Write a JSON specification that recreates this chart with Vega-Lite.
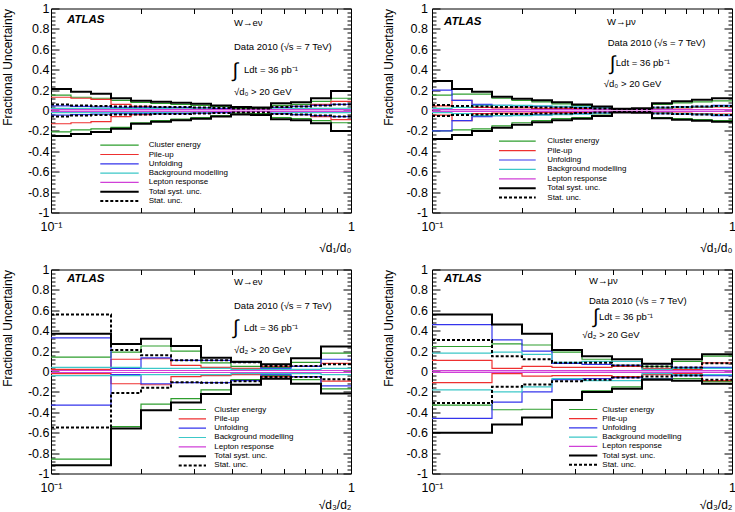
{
  "$schema": "https://vega.github.io/schema/vega-lite/v6.json",
  "background": "white",
  "padding": {"left": 0, "top": 1.5, "right": 0, "bottom": 0},
  "config": {
    "font": "Liberation Sans",
    "view": {"stroke": "black", "strokeWidth": 1},
    "axis": {"domain": false, "grid": false, "labelColor": "black", "titleColor": "black", "tickColor": "black", "tickWidth": 1, "labelFont": "Liberation Sans", "titleFont": "Liberation Sans", "titleFontWeight": "normal", "labelFontSize": 12.5, "titleFontSize": 12},
    "legend": {"labelFont": "Liberation Sans", "labelFontSize": 8, "labelColor": "black", "padding": 0, "symbolSize": 49, "symbolStrokeWidth": 1.5, "labelLimit": 0}
  },
  "datasets": {
    "unc": [
      {"panel":1,"series":"clus","x":0.1,"hi":0.15,"lo":-0.21},{"panel":1,"series":"clus","x":0.11659,"hi":0.13,"lo":-0.19},{"panel":1,"series":"clus","x":0.13594,"hi":0.12,"lo":-0.18},{"panel":1,"series":"clus","x":0.15849,"hi":0.1,"lo":-0.165},{"panel":1,"series":"clus","x":0.18478,"hi":0.08,"lo":-0.12},{"panel":1,"series":"clus","x":0.21544,"hi":0.07,"lo":-0.1},{"panel":1,"series":"clus","x":0.25119,"hi":0.06,"lo":-0.085},{"panel":1,"series":"clus","x":0.29286,"hi":0.05,"lo":-0.07},{"panel":1,"series":"clus","x":0.34145,"hi":0.04,"lo":-0.05},{"panel":1,"series":"clus","x":0.39811,"hi":0.02,"lo":-0.025},{"panel":1,"series":"clus","x":0.46416,"hi":0.02,"lo":-0.03},{"panel":1,"series":"clus","x":0.54117,"hi":0.05,"lo":-0.07},{"panel":1,"series":"clus","x":0.63096,"hi":0.06,"lo":-0.08},{"panel":1,"series":"clus","x":0.73564,"hi":0.09,"lo":-0.1},{"panel":1,"series":"clus","x":0.8577,"hi":0.12,"lo":-0.12},{"panel":1,"series":"clus","x":1,"hi":0.12,"lo":-0.12},
      {"panel":1,"series":"pile","x":0.1,"hi":0.13,"lo":-0.13},{"panel":1,"series":"pile","x":0.11659,"hi":0.12,"lo":-0.12},{"panel":1,"series":"pile","x":0.13594,"hi":0.11,"lo":-0.11},{"panel":1,"series":"pile","x":0.15849,"hi":0.06,"lo":-0.06},{"panel":1,"series":"pile","x":0.18478,"hi":0.04,"lo":-0.04},{"panel":1,"series":"pile","x":0.21544,"hi":0.03,"lo":-0.03},{"panel":1,"series":"pile","x":0.25119,"hi":0.025,"lo":-0.025},{"panel":1,"series":"pile","x":0.29286,"hi":0.02,"lo":-0.02},{"panel":1,"series":"pile","x":0.34145,"hi":0.015,"lo":-0.015},{"panel":1,"series":"pile","x":0.39811,"hi":0.01,"lo":-0.01},{"panel":1,"series":"pile","x":0.46416,"hi":0.01,"lo":-0.01},{"panel":1,"series":"pile","x":0.54117,"hi":0.03,"lo":-0.03},{"panel":1,"series":"pile","x":0.63096,"hi":0.04,"lo":-0.04},{"panel":1,"series":"pile","x":0.73564,"hi":0.06,"lo":-0.06},{"panel":1,"series":"pile","x":0.8577,"hi":0.09,"lo":-0.09},{"panel":1,"series":"pile","x":1,"hi":0.09,"lo":-0.09},
      {"panel":1,"series":"unf","x":0.1,"hi":0.045,"lo":-0.045},{"panel":1,"series":"unf","x":0.11659,"hi":0.04,"lo":-0.04},{"panel":1,"series":"unf","x":0.13594,"hi":0.035,"lo":-0.035},{"panel":1,"series":"unf","x":0.15849,"hi":0.03,"lo":-0.03},{"panel":1,"series":"unf","x":0.18478,"hi":0.03,"lo":-0.03},{"panel":1,"series":"unf","x":0.21544,"hi":0.03,"lo":-0.03},{"panel":1,"series":"unf","x":0.25119,"hi":0.03,"lo":-0.03},{"panel":1,"series":"unf","x":0.29286,"hi":0.025,"lo":-0.025},{"panel":1,"series":"unf","x":0.34145,"hi":0.02,"lo":-0.02},{"panel":1,"series":"unf","x":0.39811,"hi":0.01,"lo":-0.01},{"panel":1,"series":"unf","x":0.46416,"hi":0.01,"lo":-0.01},{"panel":1,"series":"unf","x":0.54117,"hi":0.03,"lo":-0.03},{"panel":1,"series":"unf","x":0.63096,"hi":0.04,"lo":-0.04},{"panel":1,"series":"unf","x":0.73564,"hi":0.05,"lo":-0.05},{"panel":1,"series":"unf","x":0.8577,"hi":0.06,"lo":-0.06},{"panel":1,"series":"unf","x":1,"hi":0.06,"lo":-0.06},
      {"panel":1,"series":"bkg","x":0.1,"hi":0.02,"lo":-0.02},{"panel":1,"series":"bkg","x":0.11659,"hi":0.02,"lo":-0.02},{"panel":1,"series":"bkg","x":0.13594,"hi":0.02,"lo":-0.02},{"panel":1,"series":"bkg","x":0.15849,"hi":0.02,"lo":-0.02},{"panel":1,"series":"bkg","x":0.18478,"hi":0.02,"lo":-0.02},{"panel":1,"series":"bkg","x":0.21544,"hi":0.02,"lo":-0.02},{"panel":1,"series":"bkg","x":0.25119,"hi":0.015,"lo":-0.015},{"panel":1,"series":"bkg","x":0.29286,"hi":0.015,"lo":-0.015},{"panel":1,"series":"bkg","x":0.34145,"hi":0.01,"lo":-0.01},{"panel":1,"series":"bkg","x":0.39811,"hi":0.01,"lo":-0.01},{"panel":1,"series":"bkg","x":0.46416,"hi":0.01,"lo":-0.01},{"panel":1,"series":"bkg","x":0.54117,"hi":0.015,"lo":-0.015},{"panel":1,"series":"bkg","x":0.63096,"hi":0.02,"lo":-0.02},{"panel":1,"series":"bkg","x":0.73564,"hi":0.02,"lo":-0.02},{"panel":1,"series":"bkg","x":0.8577,"hi":0.02,"lo":-0.02},{"panel":1,"series":"bkg","x":1,"hi":0.02,"lo":-0.02},
      {"panel":1,"series":"lep","x":0.1,"hi":0.008,"lo":-0.008},{"panel":1,"series":"lep","x":0.11659,"hi":0.008,"lo":-0.008},{"panel":1,"series":"lep","x":0.13594,"hi":0.008,"lo":-0.008},{"panel":1,"series":"lep","x":0.15849,"hi":0.008,"lo":-0.008},{"panel":1,"series":"lep","x":0.18478,"hi":0.008,"lo":-0.008},{"panel":1,"series":"lep","x":0.21544,"hi":0.008,"lo":-0.008},{"panel":1,"series":"lep","x":0.25119,"hi":0.008,"lo":-0.008},{"panel":1,"series":"lep","x":0.29286,"hi":0.008,"lo":-0.008},{"panel":1,"series":"lep","x":0.34145,"hi":0.008,"lo":-0.008},{"panel":1,"series":"lep","x":0.39811,"hi":0.008,"lo":-0.008},{"panel":1,"series":"lep","x":0.46416,"hi":0.008,"lo":-0.008},{"panel":1,"series":"lep","x":0.54117,"hi":0.008,"lo":-0.008},{"panel":1,"series":"lep","x":0.63096,"hi":0.008,"lo":-0.008},{"panel":1,"series":"lep","x":0.73564,"hi":0.008,"lo":-0.008},{"panel":1,"series":"lep","x":0.8577,"hi":0.008,"lo":-0.008},{"panel":1,"series":"lep","x":1,"hi":0.008,"lo":-0.008},
      {"panel":1,"series":"tot","x":0.1,"hi":0.21,"lo":-0.25},{"panel":1,"series":"tot","x":0.11659,"hi":0.185,"lo":-0.23},{"panel":1,"series":"tot","x":0.13594,"hi":0.165,"lo":-0.21},{"panel":1,"series":"tot","x":0.15849,"hi":0.12,"lo":-0.18},{"panel":1,"series":"tot","x":0.18478,"hi":0.095,"lo":-0.13},{"panel":1,"series":"tot","x":0.21544,"hi":0.085,"lo":-0.11},{"panel":1,"series":"tot","x":0.25119,"hi":0.075,"lo":-0.095},{"panel":1,"series":"tot","x":0.29286,"hi":0.065,"lo":-0.08},{"panel":1,"series":"tot","x":0.34145,"hi":0.05,"lo":-0.06},{"panel":1,"series":"tot","x":0.39811,"hi":0.035,"lo":-0.04},{"panel":1,"series":"tot","x":0.46416,"hi":0.03,"lo":-0.045},{"panel":1,"series":"tot","x":0.54117,"hi":0.07,"lo":-0.085},{"panel":1,"series":"tot","x":0.63096,"hi":0.08,"lo":-0.095},{"panel":1,"series":"tot","x":0.73564,"hi":0.12,"lo":-0.125},{"panel":1,"series":"tot","x":0.8577,"hi":0.19,"lo":-0.2},{"panel":1,"series":"tot","x":1,"hi":0.19,"lo":-0.2},
      {"panel":1,"series":"stat","x":0.1,"hi":0.06,"lo":-0.06},{"panel":1,"series":"stat","x":0.11659,"hi":0.05,"lo":-0.05},{"panel":1,"series":"stat","x":0.13594,"hi":0.045,"lo":-0.045},{"panel":1,"series":"stat","x":0.15849,"hi":0.04,"lo":-0.04},{"panel":1,"series":"stat","x":0.18478,"hi":0.04,"lo":-0.04},{"panel":1,"series":"stat","x":0.21544,"hi":0.035,"lo":-0.035},{"panel":1,"series":"stat","x":0.25119,"hi":0.035,"lo":-0.035},{"panel":1,"series":"stat","x":0.29286,"hi":0.03,"lo":-0.03},{"panel":1,"series":"stat","x":0.34145,"hi":0.025,"lo":-0.025},{"panel":1,"series":"stat","x":0.39811,"hi":0.02,"lo":-0.02},{"panel":1,"series":"stat","x":0.46416,"hi":0.02,"lo":-0.02},{"panel":1,"series":"stat","x":0.54117,"hi":0.035,"lo":-0.035},{"panel":1,"series":"stat","x":0.63096,"hi":0.04,"lo":-0.04},{"panel":1,"series":"stat","x":0.73564,"hi":0.05,"lo":-0.05},{"panel":1,"series":"stat","x":0.8577,"hi":0.06,"lo":-0.06},{"panel":1,"series":"stat","x":1,"hi":0.06,"lo":-0.06},

      {"panel":2,"series":"clus","x":0.1,"hi":0.15,"lo":-0.2},{"panel":2,"series":"clus","x":0.11659,"hi":0.16,"lo":-0.19},{"panel":2,"series":"clus","x":0.13594,"hi":0.16,"lo":-0.18},{"panel":2,"series":"clus","x":0.15849,"hi":0.12,"lo":-0.15},{"panel":2,"series":"clus","x":0.18478,"hi":0.1,"lo":-0.12},{"panel":2,"series":"clus","x":0.21544,"hi":0.085,"lo":-0.1},{"panel":2,"series":"clus","x":0.25119,"hi":0.065,"lo":-0.08},{"panel":2,"series":"clus","x":0.29286,"hi":0.05,"lo":-0.07},{"panel":2,"series":"clus","x":0.34145,"hi":0.035,"lo":-0.045},{"panel":2,"series":"clus","x":0.39811,"hi":0.01,"lo":-0.012},{"panel":2,"series":"clus","x":0.46416,"hi":0.012,"lo":-0.015},{"panel":2,"series":"clus","x":0.54117,"hi":0.06,"lo":-0.07},{"panel":2,"series":"clus","x":0.63096,"hi":0.075,"lo":-0.08},{"panel":2,"series":"clus","x":0.73564,"hi":0.085,"lo":-0.09},{"panel":2,"series":"clus","x":0.8577,"hi":0.095,"lo":-0.1},{"panel":2,"series":"clus","x":1,"hi":0.095,"lo":-0.1},
      {"panel":2,"series":"pile","x":0.1,"hi":0.045,"lo":-0.045},{"panel":2,"series":"pile","x":0.11659,"hi":0.1,"lo":-0.1},{"panel":2,"series":"pile","x":0.13594,"hi":0.03,"lo":-0.03},{"panel":2,"series":"pile","x":0.15849,"hi":0.025,"lo":-0.025},{"panel":2,"series":"pile","x":0.18478,"hi":0.025,"lo":-0.025},{"panel":2,"series":"pile","x":0.21544,"hi":0.02,"lo":-0.02},{"panel":2,"series":"pile","x":0.25119,"hi":0.02,"lo":-0.02},{"panel":2,"series":"pile","x":0.29286,"hi":0.02,"lo":-0.02},{"panel":2,"series":"pile","x":0.34145,"hi":0.015,"lo":-0.015},{"panel":2,"series":"pile","x":0.39811,"hi":0.01,"lo":-0.01},{"panel":2,"series":"pile","x":0.46416,"hi":0.01,"lo":-0.01},{"panel":2,"series":"pile","x":0.54117,"hi":0.02,"lo":-0.02},{"panel":2,"series":"pile","x":0.63096,"hi":0.025,"lo":-0.025},{"panel":2,"series":"pile","x":0.73564,"hi":0.03,"lo":-0.03},{"panel":2,"series":"pile","x":0.8577,"hi":0.035,"lo":-0.035},{"panel":2,"series":"pile","x":1,"hi":0.035,"lo":-0.035},
      {"panel":2,"series":"unf","x":0.1,"hi":0.2,"lo":-0.2},{"panel":2,"series":"unf","x":0.11659,"hi":0.1,"lo":-0.1},{"panel":2,"series":"unf","x":0.13594,"hi":0.06,"lo":-0.06},{"panel":2,"series":"unf","x":0.15849,"hi":0.05,"lo":-0.05},{"panel":2,"series":"unf","x":0.18478,"hi":0.045,"lo":-0.045},{"panel":2,"series":"unf","x":0.21544,"hi":0.04,"lo":-0.04},{"panel":2,"series":"unf","x":0.25119,"hi":0.035,"lo":-0.035},{"panel":2,"series":"unf","x":0.29286,"hi":0.03,"lo":-0.03},{"panel":2,"series":"unf","x":0.34145,"hi":0.025,"lo":-0.025},{"panel":2,"series":"unf","x":0.39811,"hi":0.015,"lo":-0.015},{"panel":2,"series":"unf","x":0.46416,"hi":0.015,"lo":-0.015},{"panel":2,"series":"unf","x":0.54117,"hi":0.03,"lo":-0.03},{"panel":2,"series":"unf","x":0.63096,"hi":0.035,"lo":-0.035},{"panel":2,"series":"unf","x":0.73564,"hi":0.04,"lo":-0.04},{"panel":2,"series":"unf","x":0.8577,"hi":0.05,"lo":-0.05},{"panel":2,"series":"unf","x":1,"hi":0.05,"lo":-0.05},
      {"panel":2,"series":"bkg","x":0.1,"hi":0.02,"lo":-0.02},{"panel":2,"series":"bkg","x":0.11659,"hi":0.03,"lo":-0.03},{"panel":2,"series":"bkg","x":0.13594,"hi":0.05,"lo":-0.05},{"panel":2,"series":"bkg","x":0.15849,"hi":0.05,"lo":-0.05},{"panel":2,"series":"bkg","x":0.18478,"hi":0.05,"lo":-0.05},{"panel":2,"series":"bkg","x":0.21544,"hi":0.045,"lo":-0.045},{"panel":2,"series":"bkg","x":0.25119,"hi":0.04,"lo":-0.04},{"panel":2,"series":"bkg","x":0.29286,"hi":0.035,"lo":-0.035},{"panel":2,"series":"bkg","x":0.34145,"hi":0.025,"lo":-0.025},{"panel":2,"series":"bkg","x":0.39811,"hi":0.01,"lo":-0.01},{"panel":2,"series":"bkg","x":0.46416,"hi":0.01,"lo":-0.01},{"panel":2,"series":"bkg","x":0.54117,"hi":0.025,"lo":-0.025},{"panel":2,"series":"bkg","x":0.63096,"hi":0.03,"lo":-0.03},{"panel":2,"series":"bkg","x":0.73564,"hi":0.035,"lo":-0.035},{"panel":2,"series":"bkg","x":0.8577,"hi":0.04,"lo":-0.04},{"panel":2,"series":"bkg","x":1,"hi":0.04,"lo":-0.04},
      {"panel":2,"series":"lep","x":0.1,"hi":0.008,"lo":-0.008},{"panel":2,"series":"lep","x":0.11659,"hi":0.008,"lo":-0.008},{"panel":2,"series":"lep","x":0.13594,"hi":0.008,"lo":-0.008},{"panel":2,"series":"lep","x":0.15849,"hi":0.008,"lo":-0.008},{"panel":2,"series":"lep","x":0.18478,"hi":0.008,"lo":-0.008},{"panel":2,"series":"lep","x":0.21544,"hi":0.008,"lo":-0.008},{"panel":2,"series":"lep","x":0.25119,"hi":0.008,"lo":-0.008},{"panel":2,"series":"lep","x":0.29286,"hi":0.008,"lo":-0.008},{"panel":2,"series":"lep","x":0.34145,"hi":0.008,"lo":-0.008},{"panel":2,"series":"lep","x":0.39811,"hi":0.008,"lo":-0.008},{"panel":2,"series":"lep","x":0.46416,"hi":0.008,"lo":-0.008},{"panel":2,"series":"lep","x":0.54117,"hi":0.008,"lo":-0.008},{"panel":2,"series":"lep","x":0.63096,"hi":0.008,"lo":-0.008},{"panel":2,"series":"lep","x":0.73564,"hi":0.008,"lo":-0.008},{"panel":2,"series":"lep","x":0.8577,"hi":0.008,"lo":-0.008},{"panel":2,"series":"lep","x":1,"hi":0.008,"lo":-0.008},
      {"panel":2,"series":"tot","x":0.1,"hi":0.29,"lo":-0.28},{"panel":2,"series":"tot","x":0.11659,"hi":0.21,"lo":-0.24},{"panel":2,"series":"tot","x":0.13594,"hi":0.185,"lo":-0.2},{"panel":2,"series":"tot","x":0.15849,"hi":0.135,"lo":-0.17},{"panel":2,"series":"tot","x":0.18478,"hi":0.115,"lo":-0.14},{"panel":2,"series":"tot","x":0.21544,"hi":0.1,"lo":-0.115},{"panel":2,"series":"tot","x":0.25119,"hi":0.08,"lo":-0.095},{"panel":2,"series":"tot","x":0.29286,"hi":0.06,"lo":-0.08},{"panel":2,"series":"tot","x":0.34145,"hi":0.04,"lo":-0.055},{"panel":2,"series":"tot","x":0.39811,"hi":0.018,"lo":-0.02},{"panel":2,"series":"tot","x":0.46416,"hi":0.022,"lo":-0.022},{"panel":2,"series":"tot","x":0.54117,"hi":0.07,"lo":-0.075},{"panel":2,"series":"tot","x":0.63096,"hi":0.09,"lo":-0.09},{"panel":2,"series":"tot","x":0.73564,"hi":0.105,"lo":-0.1},{"panel":2,"series":"tot","x":0.8577,"hi":0.12,"lo":-0.11},{"panel":2,"series":"tot","x":1,"hi":0.12,"lo":-0.11},
      {"panel":2,"series":"stat","x":0.1,"hi":0.055,"lo":-0.055},{"panel":2,"series":"stat","x":0.11659,"hi":0.045,"lo":-0.045},{"panel":2,"series":"stat","x":0.13594,"hi":0.04,"lo":-0.04},{"panel":2,"series":"stat","x":0.15849,"hi":0.035,"lo":-0.035},{"panel":2,"series":"stat","x":0.18478,"hi":0.035,"lo":-0.035},{"panel":2,"series":"stat","x":0.21544,"hi":0.03,"lo":-0.03},{"panel":2,"series":"stat","x":0.25119,"hi":0.03,"lo":-0.03},{"panel":2,"series":"stat","x":0.29286,"hi":0.025,"lo":-0.025},{"panel":2,"series":"stat","x":0.34145,"hi":0.02,"lo":-0.02},{"panel":2,"series":"stat","x":0.39811,"hi":0.015,"lo":-0.015},{"panel":2,"series":"stat","x":0.46416,"hi":0.015,"lo":-0.015},{"panel":2,"series":"stat","x":0.54117,"hi":0.03,"lo":-0.03},{"panel":2,"series":"stat","x":0.63096,"hi":0.035,"lo":-0.035},{"panel":2,"series":"stat","x":0.73564,"hi":0.04,"lo":-0.04},{"panel":2,"series":"stat","x":0.8577,"hi":0.045,"lo":-0.045},{"panel":2,"series":"stat","x":1,"hi":0.045,"lo":-0.045},

      {"panel":3,"series":"clus","x":0.1,"hi":0.14,"lo":-0.86},{"panel":3,"series":"clus","x":0.15849,"hi":0.19,"lo":-0.54},{"panel":3,"series":"clus","x":0.19953,"hi":0.25,"lo":-0.32},{"panel":3,"series":"clus","x":0.25119,"hi":0.2,"lo":-0.265},{"panel":3,"series":"clus","x":0.31623,"hi":0.085,"lo":-0.18},{"panel":3,"series":"clus","x":0.39811,"hi":0.05,"lo":-0.08},{"panel":3,"series":"clus","x":0.50119,"hi":0.04,"lo":-0.04},{"panel":3,"series":"clus","x":0.63096,"hi":0.09,"lo":-0.08},{"panel":3,"series":"clus","x":0.79433,"hi":0.18,"lo":-0.17},{"panel":3,"series":"clus","x":1,"hi":0.18,"lo":-0.17},
      {"panel":3,"series":"pile","x":0.1,"hi":0.02,"lo":-0.02},{"panel":3,"series":"pile","x":0.15849,"hi":0.12,"lo":-0.12},{"panel":3,"series":"pile","x":0.19953,"hi":0.125,"lo":-0.13},{"panel":3,"series":"pile","x":0.25119,"hi":0.06,"lo":-0.05},{"panel":3,"series":"pile","x":0.31623,"hi":0.04,"lo":-0.04},{"panel":3,"series":"pile","x":0.39811,"hi":0.03,"lo":-0.03},{"panel":3,"series":"pile","x":0.50119,"hi":0.05,"lo":-0.05},{"panel":3,"series":"pile","x":0.63096,"hi":0.05,"lo":-0.05},{"panel":3,"series":"pile","x":0.79433,"hi":0.08,"lo":-0.095},{"panel":3,"series":"pile","x":1,"hi":0.08,"lo":-0.095},
      {"panel":3,"series":"unf","x":0.1,"hi":0.33,"lo":-0.33},{"panel":3,"series":"unf","x":0.15849,"hi":0.03,"lo":-0.03},{"panel":3,"series":"unf","x":0.19953,"hi":0.134,"lo":-0.12},{"panel":3,"series":"unf","x":0.25119,"hi":0.11,"lo":-0.11},{"panel":3,"series":"unf","x":0.31623,"hi":0.11,"lo":-0.11},{"panel":3,"series":"unf","x":0.39811,"hi":0.09,"lo":-0.09},{"panel":3,"series":"unf","x":0.50119,"hi":0.03,"lo":-0.03},{"panel":3,"series":"unf","x":0.63096,"hi":0.05,"lo":-0.05},{"panel":3,"series":"unf","x":0.79433,"hi":0.12,"lo":-0.14},{"panel":3,"series":"unf","x":1,"hi":0.12,"lo":-0.14},
      {"panel":3,"series":"bkg","x":0.1,"hi":0.04,"lo":-0.04},{"panel":3,"series":"bkg","x":0.15849,"hi":0.04,"lo":-0.04},{"panel":3,"series":"bkg","x":0.19953,"hi":0.03,"lo":-0.03},{"panel":3,"series":"bkg","x":0.25119,"hi":0.03,"lo":-0.03},{"panel":3,"series":"bkg","x":0.31623,"hi":0.03,"lo":-0.03},{"panel":3,"series":"bkg","x":0.39811,"hi":0.02,"lo":-0.02},{"panel":3,"series":"bkg","x":0.50119,"hi":0.02,"lo":-0.02},{"panel":3,"series":"bkg","x":0.63096,"hi":0.02,"lo":-0.02},{"panel":3,"series":"bkg","x":0.79433,"hi":0.03,"lo":-0.03},{"panel":3,"series":"bkg","x":1,"hi":0.03,"lo":-0.03},
      {"panel":3,"series":"lep","x":0.1,"hi":0.01,"lo":-0.01},{"panel":3,"series":"lep","x":0.15849,"hi":0.01,"lo":-0.01},{"panel":3,"series":"lep","x":0.19953,"hi":0.01,"lo":-0.01},{"panel":3,"series":"lep","x":0.25119,"hi":0.01,"lo":-0.01},{"panel":3,"series":"lep","x":0.31623,"hi":0.01,"lo":-0.01},{"panel":3,"series":"lep","x":0.39811,"hi":0.01,"lo":-0.01},{"panel":3,"series":"lep","x":0.50119,"hi":0.01,"lo":-0.01},{"panel":3,"series":"lep","x":0.63096,"hi":0.01,"lo":-0.01},{"panel":3,"series":"lep","x":0.79433,"hi":0.01,"lo":-0.01},{"panel":3,"series":"lep","x":1,"hi":0.01,"lo":-0.01},
      {"panel":3,"series":"tot","x":0.1,"hi":0.37,"lo":-0.92},{"panel":3,"series":"tot","x":0.15849,"hi":0.27,"lo":-0.56},{"panel":3,"series":"tot","x":0.19953,"hi":0.32,"lo":-0.38},{"panel":3,"series":"tot","x":0.25119,"hi":0.25,"lo":-0.305},{"panel":3,"series":"tot","x":0.31623,"hi":0.134,"lo":-0.22},{"panel":3,"series":"tot","x":0.39811,"hi":0.095,"lo":-0.13},{"panel":3,"series":"tot","x":0.50119,"hi":0.07,"lo":-0.07},{"panel":3,"series":"tot","x":0.63096,"hi":0.13,"lo":-0.12},{"panel":3,"series":"tot","x":0.79433,"hi":0.245,"lo":-0.215},{"panel":3,"series":"tot","x":1,"hi":0.245,"lo":-0.215},
      {"panel":3,"series":"stat","x":0.1,"hi":0.56,"lo":-0.55},{"panel":3,"series":"stat","x":0.15849,"hi":0.21,"lo":-0.21},{"panel":3,"series":"stat","x":0.19953,"hi":0.16,"lo":-0.16},{"panel":3,"series":"stat","x":0.25119,"hi":0.11,"lo":-0.105},{"panel":3,"series":"stat","x":0.31623,"hi":0.11,"lo":-0.11},{"panel":3,"series":"stat","x":0.39811,"hi":0.09,"lo":-0.095},{"panel":3,"series":"stat","x":0.50119,"hi":0.055,"lo":-0.055},{"panel":3,"series":"stat","x":0.63096,"hi":0.055,"lo":-0.055},{"panel":3,"series":"stat","x":0.79433,"hi":0.07,"lo":-0.075},{"panel":3,"series":"stat","x":1,"hi":0.07,"lo":-0.075},

      {"panel":4,"series":"clus","x":0.1,"hi":0.245,"lo":-0.33},{"panel":4,"series":"clus","x":0.15849,"hi":0.27,"lo":-0.375},{"panel":4,"series":"clus","x":0.19953,"hi":0.26,"lo":-0.37},{"panel":4,"series":"clus","x":0.25119,"hi":0.19,"lo":-0.28},{"panel":4,"series":"clus","x":0.31623,"hi":0.12,"lo":-0.19},{"panel":4,"series":"clus","x":0.39811,"hi":0.06,"lo":-0.15},{"panel":4,"series":"clus","x":0.50119,"hi":0.05,"lo":-0.07},{"panel":4,"series":"clus","x":0.63096,"hi":0.1,"lo":-0.07},{"panel":4,"series":"clus","x":0.79433,"hi":0.15,"lo":-0.1},{"panel":4,"series":"clus","x":1,"hi":0.15,"lo":-0.1},
      {"panel":4,"series":"pile","x":0.1,"hi":0.11,"lo":-0.11},{"panel":4,"series":"pile","x":0.15849,"hi":0.03,"lo":-0.02},{"panel":4,"series":"pile","x":0.19953,"hi":0.05,"lo":-0.046},{"panel":4,"series":"pile","x":0.25119,"hi":0.04,"lo":-0.04},{"panel":4,"series":"pile","x":0.31623,"hi":0.04,"lo":-0.04},{"panel":4,"series":"pile","x":0.39811,"hi":0.05,"lo":-0.05},{"panel":4,"series":"pile","x":0.50119,"hi":0.03,"lo":-0.03},{"panel":4,"series":"pile","x":0.63096,"hi":0.02,"lo":-0.02},{"panel":4,"series":"pile","x":0.79433,"hi":0.085,"lo":-0.09},{"panel":4,"series":"pile","x":1,"hi":0.085,"lo":-0.09},
      {"panel":4,"series":"unf","x":0.1,"hi":0.46,"lo":-0.46},{"panel":4,"series":"unf","x":0.15849,"hi":0.31,"lo":-0.3},{"panel":4,"series":"unf","x":0.19953,"hi":0.2,"lo":-0.2},{"panel":4,"series":"unf","x":0.25119,"hi":0.08,"lo":-0.08},{"panel":4,"series":"unf","x":0.31623,"hi":0.07,"lo":-0.07},{"panel":4,"series":"unf","x":0.39811,"hi":0.06,"lo":-0.06},{"panel":4,"series":"unf","x":0.50119,"hi":0.075,"lo":-0.075},{"panel":4,"series":"unf","x":0.63096,"hi":0.04,"lo":-0.04},{"panel":4,"series":"unf","x":0.79433,"hi":0.04,"lo":-0.04},{"panel":4,"series":"unf","x":1,"hi":0.04,"lo":-0.04},
      {"panel":4,"series":"bkg","x":0.1,"hi":0.18,"lo":-0.18},{"panel":4,"series":"bkg","x":0.15849,"hi":0.19,"lo":-0.2},{"panel":4,"series":"bkg","x":0.19953,"hi":0.167,"lo":-0.15},{"panel":4,"series":"bkg","x":0.25119,"hi":0.09,"lo":-0.07},{"panel":4,"series":"bkg","x":0.31623,"hi":0.1,"lo":-0.09},{"panel":4,"series":"bkg","x":0.39811,"hi":0.1,"lo":-0.09},{"panel":4,"series":"bkg","x":0.50119,"hi":0.02,"lo":-0.02},{"panel":4,"series":"bkg","x":0.63096,"hi":0.03,"lo":-0.03},{"panel":4,"series":"bkg","x":0.79433,"hi":0.03,"lo":-0.03},{"panel":4,"series":"bkg","x":1,"hi":0.03,"lo":-0.03},
      {"panel":4,"series":"lep","x":0.1,"hi":0.008,"lo":-0.008},{"panel":4,"series":"lep","x":0.15849,"hi":0.008,"lo":-0.008},{"panel":4,"series":"lep","x":0.19953,"hi":0.008,"lo":-0.008},{"panel":4,"series":"lep","x":0.25119,"hi":0.008,"lo":-0.008},{"panel":4,"series":"lep","x":0.31623,"hi":0.008,"lo":-0.008},{"panel":4,"series":"lep","x":0.39811,"hi":0.008,"lo":-0.008},{"panel":4,"series":"lep","x":0.50119,"hi":0.008,"lo":-0.008},{"panel":4,"series":"lep","x":0.63096,"hi":0.008,"lo":-0.008},{"panel":4,"series":"lep","x":0.79433,"hi":0.008,"lo":-0.008},{"panel":4,"series":"lep","x":1,"hi":0.008,"lo":-0.008},
      {"panel":4,"series":"tot","x":0.1,"hi":0.56,"lo":-0.6},{"panel":4,"series":"tot","x":0.15849,"hi":0.46,"lo":-0.52},{"panel":4,"series":"tot","x":0.19953,"hi":0.37,"lo":-0.45},{"panel":4,"series":"tot","x":0.25119,"hi":0.21,"lo":-0.28},{"panel":4,"series":"tot","x":0.31623,"hi":0.15,"lo":-0.2},{"panel":4,"series":"tot","x":0.39811,"hi":0.12,"lo":-0.17},{"panel":4,"series":"tot","x":0.50119,"hi":0.075,"lo":-0.08},{"panel":4,"series":"tot","x":0.63096,"hi":0.12,"lo":-0.09},{"panel":4,"series":"tot","x":0.79433,"hi":0.17,"lo":-0.12},{"panel":4,"series":"tot","x":1,"hi":0.17,"lo":-0.12},
      {"panel":4,"series":"stat","x":0.1,"hi":0.31,"lo":-0.31},{"panel":4,"series":"stat","x":0.15849,"hi":0.15,"lo":-0.15},{"panel":4,"series":"stat","x":0.19953,"hi":0.12,"lo":-0.127},{"panel":4,"series":"stat","x":0.25119,"hi":0.085,"lo":-0.095},{"panel":4,"series":"stat","x":0.31623,"hi":0.085,"lo":-0.08},{"panel":4,"series":"stat","x":0.39811,"hi":0.06,"lo":-0.06},{"panel":4,"series":"stat","x":0.50119,"hi":0.05,"lo":-0.05},{"panel":4,"series":"stat","x":0.63096,"hi":0.04,"lo":-0.04},{"panel":4,"series":"stat","x":0.79433,"hi":0.08,"lo":-0.08},{"panel":4,"series":"stat","x":1,"hi":0.08,"lo":-0.08}
    ]
  },
  "bounds": "flush",
  "columns": 2,
  "spacing": {"row": 57, "column": 81},
  "resolve": {"scale": {"color": "independent", "strokeDash": "independent", "strokeWidth": "independent"}, "legend": {"color": "independent", "strokeDash": "independent", "strokeWidth": "independent"}},
  "concat": [
    {
      "width": 300, "height": 204,
      "resolve": {"axis": {"x": "independent", "y": "independent"}},
      "layer": [
        {
          "data": {"name": "unc"},
          "transform": [{"filter": "datum.panel == 1"}],
          "mark": {"type": "line", "interpolate": "step-after"},
          "encoding": {
            "x": {"field": "x", "type": "quantitative", "scale": {"type": "log", "domain": [0.1, 1], "nice": false}, "axis": {"orient": "bottom", "values": [0.1, 1], "ticks": false, "labelExpr": "datum.value < 0.5 ? '10⁻¹' : '1'", "labelFlush": false, "labelPadding": 8, "title": "√d₁/d₀", "titleAnchor": "end", "titlePadding": 9}},
            "y": {"field": "hi", "type": "quantitative", "scale": {"domain": [-1, 1], "nice": false}, "axis": {"orient": "left", "values": [-1, -0.8, -0.6, -0.4, -0.2, 0, 0.2, 0.4, 0.6, 0.8, 1], "ticks": false, "labelExpr": "'' + datum.value", "labelPadding": 2, "title": "Fractional Uncertainty", "titleAnchor": "end", "titlePadding": 13}},
            "color": {"field": "series", "type": "nominal", "scale": {"domain": ["clus", "pile", "unf", "bkg", "lep", "tot", "stat"], "range": ["#2e9e2e", "#ee3030", "#3434ec", "#3cc8c8", "#d040d8", "#000000", "#000000"]}, "legend": {"orient": "none", "legendX": 44.8, "legendY": 132.2, "title": null, "symbolType": "M0,0H10.97", "labelOffset": 43.9, "rowPadding": 0.3, "labelExpr": "datum.value == 'clus' ? 'Cluster energy' : datum.value == 'pile' ? 'Pile-up' : datum.value == 'unf' ? 'Unfolding' : datum.value == 'bkg' ? 'Background modelling' : datum.value == 'lep' ? 'Lepton response' : datum.value == 'tot' ? 'Total syst. unc.' : 'Stat. unc.'"}},
            "strokeDash": {"field": "series", "type": "nominal", "scale": {"domain": ["clus", "pile", "unf", "bkg", "lep", "tot", "stat"], "range": [[1, 0], [1, 0], [1, 0], [1, 0], [1, 0], [1, 0], [3, 2]]}, "legend": {"orient": "none", "legendX": 44.8, "legendY": 132.2, "title": null, "symbolType": "M0,0H10.97", "labelOffset": 43.9, "rowPadding": 0.3}},
            "strokeWidth": {"field": "series", "type": "nominal", "scale": {"type": "ordinal", "domain": ["clus", "pile", "unf", "bkg", "lep", "tot", "stat"], "range": [1.2, 1.2, 1.2, 1.2, 1.2, 2, 2]}, "legend": null}
          }
        },
        {
          "data": {"name": "unc"},
          "transform": [{"filter": "datum.panel == 1"}],
          "mark": {"type": "line", "interpolate": "step-after"},
          "encoding": {
            "x": {"field": "x", "type": "quantitative", "axis": {"orient": "top", "values": [0.1, 1], "labels": false, "tickSize": -9, "title": null}},
            "y": {"field": "lo", "type": "quantitative", "axis": {"orient": "right", "values": [-1, -0.8, -0.6, -0.4, -0.2, 0, 0.2, 0.4, 0.6, 0.8, 1], "labels": false, "tickSize": -8, "title": null}},
            "color": {"field": "series", "type": "nominal", "scale": {"domain": ["clus", "pile", "unf", "bkg", "lep", "tot", "stat"], "range": ["#2e9e2e", "#ee3030", "#3434ec", "#3cc8c8", "#d040d8", "#000000", "#000000"]}, "legend": null},
            "strokeDash": {"field": "series", "type": "nominal", "scale": {"domain": ["clus", "pile", "unf", "bkg", "lep", "tot", "stat"], "range": [[1, 0], [1, 0], [1, 0], [1, 0], [1, 0], [1, 0], [3, 2]]}, "legend": null},
            "strokeWidth": {"field": "series", "type": "nominal", "scale": {"type": "ordinal", "domain": ["clus", "pile", "unf", "bkg", "lep", "tot", "stat"], "range": [1.2, 1.2, 1.2, 1.2, 1.2, 2, 2]}, "legend": null}
          }
        },
        {
          "data": {"values": [{"t": "ATLAS"}]},
          "mark": {"type": "text", "align": "left", "baseline": "middle", "fontSize": 11.5, "fontWeight": "bold", "fontStyle": "italic", "color": "black"},
          "encoding": {
            "text": {"field": "t"},
            "x": {"datum": 0.1131, "type": "quantitative", "axis": {"orient": "bottom", "values": [0.1, 1], "labels": false, "tickSize": -9, "title": null}},
            "y": {"datum": 0.892, "type": "quantitative", "axis": {"orient": "left", "values": [-1, -0.8, -0.6, -0.4, -0.2, 0, 0.2, 0.4, 0.6, 0.8, 1], "labels": false, "tickSize": -8, "title": null}}
          }
        },
        {
          "data": {"values": [{"t": "W→eν"}]},
          "mark": {"type": "text", "align": "left", "baseline": "middle", "fontSize": 9.5, "color": "black"},
          "encoding": {
            "text": {"field": "t"},
            "x": {"datum": 0.4074, "type": "quantitative", "axis": {"orient": "bottom", "values": [0.2, 0.3, 0.4, 0.5, 0.6, 0.7, 0.8, 0.9], "labels": false, "tickSize": -5, "title": null}},
            "y": {"datum": 0.853, "type": "quantitative", "axis": {"orient": "left", "values": [-0.96, -0.92, -0.88, -0.84, -0.76, -0.72, -0.68, -0.64, -0.56, -0.52, -0.48, -0.44, -0.36, -0.32, -0.28, -0.24, -0.16, -0.12, -0.08, -0.04, 0.04, 0.08, 0.12, 0.16, 0.24, 0.28, 0.32, 0.36, 0.44, 0.48, 0.52, 0.56, 0.64, 0.68, 0.72, 0.76, 0.84, 0.88, 0.92, 0.96], "labels": false, "tickSize": -4, "title": null}}
          }
        },
        {
          "data": {"values": [{"t": "Data 2010 (√s = 7 TeV)"}]},
          "mark": {"type": "text", "align": "left", "baseline": "middle", "fontSize": 9.5, "color": "black"},
          "encoding": {
            "text": {"field": "t"},
            "x": {"datum": 0.4074, "type": "quantitative", "axis": {"orient": "top", "values": [0.2, 0.3, 0.4, 0.5, 0.6, 0.7, 0.8, 0.9], "labels": false, "tickSize": -5, "title": null}},
            "y": {"datum": 0.62, "type": "quantitative", "axis": {"orient": "right", "values": [-0.96, -0.92, -0.88, -0.84, -0.76, -0.72, -0.68, -0.64, -0.56, -0.52, -0.48, -0.44, -0.36, -0.32, -0.28, -0.24, -0.16, -0.12, -0.08, -0.04, 0.04, 0.08, 0.12, 0.16, 0.24, 0.28, 0.32, 0.36, 0.44, 0.48, 0.52, 0.56, 0.64, 0.68, 0.72, 0.76, 0.84, 0.88, 0.92, 0.96], "labels": false, "tickSize": -4, "title": null}}
          }
        },
        {
          "data": {"values": [{"t": "∫"}]},
          "mark": {"type": "text", "align": "left", "baseline": "middle", "fontSize": 20, "color": "black"},
          "encoding": {"text": {"field": "t"}, "x": {"datum": 0.403, "type": "quantitative", "axis": null}, "y": {"datum": 0.39, "type": "quantitative", "axis": null}}
        },
        {
          "data": {"values": [{"t": "Ldt = 36 pb⁻¹"}]},
          "mark": {"type": "text", "align": "left", "baseline": "middle", "fontSize": 9.5, "color": "black"},
          "encoding": {"text": {"field": "t"}, "x": {"datum": 0.44, "type": "quantitative", "axis": null}, "y": {"datum": 0.398, "type": "quantitative", "axis": null}}
        },
        {
          "data": {"values": [{"t": "√d₀ > 20 GeV"}]},
          "mark": {"type": "text", "align": "left", "baseline": "middle", "fontSize": 9.5, "color": "black"},
          "encoding": {"text": {"field": "t"}, "x": {"datum": 0.4074, "type": "quantitative", "axis": null}, "y": {"datum": 0.179, "type": "quantitative", "axis": null}}
        }
      ]
    },
    {
      "width": 300, "height": 204,
      "resolve": {"axis": {"x": "independent", "y": "independent"}},
      "layer": [
        {
          "data": {"name": "unc"},
          "transform": [{"filter": "datum.panel == 2"}],
          "mark": {"type": "line", "interpolate": "step-after"},
          "encoding": {
            "x": {"field": "x", "type": "quantitative", "scale": {"type": "log", "domain": [0.1, 1], "nice": false}, "axis": {"orient": "bottom", "values": [0.1, 1], "ticks": false, "labelExpr": "datum.value < 0.5 ? '10⁻¹' : '1'", "labelFlush": false, "labelPadding": 8, "title": "√d₁/d₀", "titleAnchor": "end", "titlePadding": 9}},
            "y": {"field": "hi", "type": "quantitative", "scale": {"domain": [-1, 1], "nice": false}, "axis": {"orient": "left", "values": [-1, -0.8, -0.6, -0.4, -0.2, 0, 0.2, 0.4, 0.6, 0.8, 1], "ticks": false, "labelExpr": "'' + datum.value", "labelPadding": 4.5, "title": "Fractional Uncertainty", "titleAnchor": "end", "titlePadding": 10}},
            "color": {"field": "series", "type": "nominal", "scale": {"domain": ["clus", "pile", "unf", "bkg", "lep", "tot", "stat"], "range": ["#2e9e2e", "#ee3030", "#3434ec", "#3cc8c8", "#d040d8", "#000000", "#000000"]}, "legend": {"orient": "none", "legendX": 62.5, "legendY": 128.2, "title": null, "symbolType": "M0,0H10.49", "labelOffset": 43.8, "rowPadding": 0.4, "labelExpr": "datum.value == 'clus' ? 'Cluster energy' : datum.value == 'pile' ? 'Pile-up' : datum.value == 'unf' ? 'Unfolding' : datum.value == 'bkg' ? 'Background modelling' : datum.value == 'lep' ? 'Lepton response' : datum.value == 'tot' ? 'Total syst. unc.' : 'Stat. unc.'"}},
            "strokeDash": {"field": "series", "type": "nominal", "scale": {"domain": ["clus", "pile", "unf", "bkg", "lep", "tot", "stat"], "range": [[1, 0], [1, 0], [1, 0], [1, 0], [1, 0], [1, 0], [3, 2]]}, "legend": {"orient": "none", "legendX": 62.5, "legendY": 128.2, "title": null, "symbolType": "M0,0H10.49", "labelOffset": 43.8, "rowPadding": 0.4}},
            "strokeWidth": {"field": "series", "type": "nominal", "scale": {"type": "ordinal", "domain": ["clus", "pile", "unf", "bkg", "lep", "tot", "stat"], "range": [1.2, 1.2, 1.2, 1.2, 1.2, 2, 2]}, "legend": null}
          }
        },
        {
          "data": {"name": "unc"},
          "transform": [{"filter": "datum.panel == 2"}],
          "mark": {"type": "line", "interpolate": "step-after"},
          "encoding": {
            "x": {"field": "x", "type": "quantitative", "axis": {"orient": "top", "values": [0.1, 1], "labels": false, "tickSize": -9, "title": null}},
            "y": {"field": "lo", "type": "quantitative", "axis": {"orient": "right", "values": [-1, -0.8, -0.6, -0.4, -0.2, 0, 0.2, 0.4, 0.6, 0.8, 1], "labels": false, "tickSize": -8, "title": null}},
            "color": {"field": "series", "type": "nominal", "scale": {"domain": ["clus", "pile", "unf", "bkg", "lep", "tot", "stat"], "range": ["#2e9e2e", "#ee3030", "#3434ec", "#3cc8c8", "#d040d8", "#000000", "#000000"]}, "legend": null},
            "strokeDash": {"field": "series", "type": "nominal", "scale": {"domain": ["clus", "pile", "unf", "bkg", "lep", "tot", "stat"], "range": [[1, 0], [1, 0], [1, 0], [1, 0], [1, 0], [1, 0], [3, 2]]}, "legend": null},
            "strokeWidth": {"field": "series", "type": "nominal", "scale": {"type": "ordinal", "domain": ["clus", "pile", "unf", "bkg", "lep", "tot", "stat"], "range": [1.2, 1.2, 1.2, 1.2, 1.2, 2, 2]}, "legend": null}
          }
        },
        {
          "data": {"values": [{"t": "ATLAS"}]},
          "mark": {"type": "text", "align": "left", "baseline": "middle", "fontSize": 11.5, "fontWeight": "bold", "fontStyle": "italic", "color": "black"},
          "encoding": {
            "text": {"field": "t"},
            "x": {"datum": 0.1096, "type": "quantitative", "axis": {"orient": "bottom", "values": [0.1, 1], "labels": false, "tickSize": -9, "title": null}},
            "y": {"datum": 0.863, "type": "quantitative", "axis": {"orient": "left", "values": [-1, -0.8, -0.6, -0.4, -0.2, 0, 0.2, 0.4, 0.6, 0.8, 1], "labels": false, "tickSize": -8, "title": null}}
          }
        },
        {
          "data": {"values": [{"t": "W→μν"}]},
          "mark": {"type": "text", "align": "left", "baseline": "middle", "fontSize": 9.5, "color": "black"},
          "encoding": {
            "text": {"field": "t"},
            "x": {"datum": 0.383, "type": "quantitative", "axis": {"orient": "bottom", "values": [0.2, 0.3, 0.4, 0.5, 0.6, 0.7, 0.8, 0.9], "labels": false, "tickSize": -5, "title": null}},
            "y": {"datum": 0.863, "type": "quantitative", "axis": {"orient": "left", "values": [-0.96, -0.92, -0.88, -0.84, -0.76, -0.72, -0.68, -0.64, -0.56, -0.52, -0.48, -0.44, -0.36, -0.32, -0.28, -0.24, -0.16, -0.12, -0.08, -0.04, 0.04, 0.08, 0.12, 0.16, 0.24, 0.28, 0.32, 0.36, 0.44, 0.48, 0.52, 0.56, 0.64, 0.68, 0.72, 0.76, 0.84, 0.88, 0.92, 0.96], "labels": false, "tickSize": -4, "title": null}}
          }
        },
        {
          "data": {"values": [{"t": "Data 2010 (√s = 7 TeV)"}]},
          "mark": {"type": "text", "align": "left", "baseline": "middle", "fontSize": 9.5, "color": "black"},
          "encoding": {
            "text": {"field": "t"},
            "x": {"datum": 0.385, "type": "quantitative", "axis": {"orient": "top", "values": [0.2, 0.3, 0.4, 0.5, 0.6, 0.7, 0.8, 0.9], "labels": false, "tickSize": -5, "title": null}},
            "y": {"datum": 0.664, "type": "quantitative", "axis": {"orient": "right", "values": [-0.96, -0.92, -0.88, -0.84, -0.76, -0.72, -0.68, -0.64, -0.56, -0.52, -0.48, -0.44, -0.36, -0.32, -0.28, -0.24, -0.16, -0.12, -0.08, -0.04, 0.04, 0.08, 0.12, 0.16, 0.24, 0.28, 0.32, 0.36, 0.44, 0.48, 0.52, 0.56, 0.64, 0.68, 0.72, 0.76, 0.84, 0.88, 0.92, 0.96], "labels": false, "tickSize": -4, "title": null}}
          }
        },
        {
          "data": {"values": [{"t": "∫"}]},
          "mark": {"type": "text", "align": "left", "baseline": "middle", "fontSize": 20, "color": "black"},
          "encoding": {"text": {"field": "t"}, "x": {"datum": 0.391, "type": "quantitative", "axis": null}, "y": {"datum": 0.454, "type": "quantitative", "axis": null}}
        },
        {
          "data": {"values": [{"t": "Ldt = 36 pb⁻¹"}]},
          "mark": {"type": "text", "align": "left", "baseline": "middle", "fontSize": 9.5, "color": "black"},
          "encoding": {"text": {"field": "t"}, "x": {"datum": 0.41, "type": "quantitative", "axis": null}, "y": {"datum": 0.464, "type": "quantitative", "axis": null}}
        },
        {
          "data": {"values": [{"t": "√d₀ > 20 GeV"}]},
          "mark": {"type": "text", "align": "left", "baseline": "middle", "fontSize": 9.5, "color": "black"},
          "encoding": {"text": {"field": "t"}, "x": {"datum": 0.374, "type": "quantitative", "axis": null}, "y": {"datum": 0.255, "type": "quantitative", "axis": null}}
        }
      ]
    },
    {
      "width": 300, "height": 204,
      "resolve": {"axis": {"x": "independent", "y": "independent"}},
      "layer": [
        {
          "data": {"name": "unc"},
          "transform": [{"filter": "datum.panel == 3"}],
          "mark": {"type": "line", "interpolate": "step-after"},
          "encoding": {
            "x": {"field": "x", "type": "quantitative", "scale": {"type": "log", "domain": [0.1, 1], "nice": false}, "axis": {"orient": "bottom", "values": [0.1, 1], "ticks": false, "labelExpr": "datum.value < 0.5 ? '10⁻¹' : '1'", "labelFlush": false, "labelPadding": 8, "title": "√d₃/d₂", "titleAnchor": "end", "titlePadding": 5}},
            "y": {"field": "hi", "type": "quantitative", "scale": {"domain": [-1, 1], "nice": false}, "axis": {"orient": "left", "values": [-1, -0.8, -0.6, -0.4, -0.2, 0, 0.2, 0.4, 0.6, 0.8, 1], "ticks": false, "labelExpr": "'' + datum.value", "labelPadding": 2, "title": "Fractional Uncertainty", "titleAnchor": "end", "titlePadding": 13}},
            "color": {"field": "series", "type": "nominal", "scale": {"domain": ["clus", "pile", "unf", "bkg", "lep", "tot", "stat"], "range": ["#2e9e2e", "#ee3030", "#3434ec", "#3cc8c8", "#d040d8", "#000000", "#000000"]}, "legend": {"orient": "none", "legendX": 123.2, "legendY": 135.5, "title": null, "symbolType": "M0,0H7.8", "labelOffset": 31.1, "rowPadding": 0.33, "labelExpr": "datum.value == 'clus' ? 'Cluster energy' : datum.value == 'pile' ? 'Pile-up' : datum.value == 'unf' ? 'Unfolding' : datum.value == 'bkg' ? 'Background modelling' : datum.value == 'lep' ? 'Lepton response' : datum.value == 'tot' ? 'Total syst. unc.' : 'Stat. unc.'"}},
            "strokeDash": {"field": "series", "type": "nominal", "scale": {"domain": ["clus", "pile", "unf", "bkg", "lep", "tot", "stat"], "range": [[1, 0], [1, 0], [1, 0], [1, 0], [1, 0], [1, 0], [3, 2]]}, "legend": {"orient": "none", "legendX": 123.2, "legendY": 135.5, "title": null, "symbolType": "M0,0H7.8", "labelOffset": 31.1, "rowPadding": 0.33}},
            "strokeWidth": {"field": "series", "type": "nominal", "scale": {"type": "ordinal", "domain": ["clus", "pile", "unf", "bkg", "lep", "tot", "stat"], "range": [1.2, 1.2, 1.2, 1.2, 1.2, 2, 2]}, "legend": null}
          }
        },
        {
          "data": {"name": "unc"},
          "transform": [{"filter": "datum.panel == 3"}],
          "mark": {"type": "line", "interpolate": "step-after"},
          "encoding": {
            "x": {"field": "x", "type": "quantitative", "axis": {"orient": "top", "values": [0.1, 1], "labels": false, "tickSize": -9, "title": null}},
            "y": {"field": "lo", "type": "quantitative", "axis": {"orient": "right", "values": [-1, -0.8, -0.6, -0.4, -0.2, 0, 0.2, 0.4, 0.6, 0.8, 1], "labels": false, "tickSize": -8, "title": null}},
            "color": {"field": "series", "type": "nominal", "scale": {"domain": ["clus", "pile", "unf", "bkg", "lep", "tot", "stat"], "range": ["#2e9e2e", "#ee3030", "#3434ec", "#3cc8c8", "#d040d8", "#000000", "#000000"]}, "legend": null},
            "strokeDash": {"field": "series", "type": "nominal", "scale": {"domain": ["clus", "pile", "unf", "bkg", "lep", "tot", "stat"], "range": [[1, 0], [1, 0], [1, 0], [1, 0], [1, 0], [1, 0], [3, 2]]}, "legend": null},
            "strokeWidth": {"field": "series", "type": "nominal", "scale": {"type": "ordinal", "domain": ["clus", "pile", "unf", "bkg", "lep", "tot", "stat"], "range": [1.2, 1.2, 1.2, 1.2, 1.2, 2, 2]}, "legend": null}
          }
        },
        {
          "data": {"values": [{"t": "ATLAS"}]},
          "mark": {"type": "text", "align": "left", "baseline": "middle", "fontSize": 11.5, "fontWeight": "bold", "fontStyle": "italic", "color": "black"},
          "encoding": {
            "text": {"field": "t"},
            "x": {"datum": 0.1131, "type": "quantitative", "axis": {"orient": "bottom", "values": [0.1, 1], "labels": false, "tickSize": -9, "title": null}},
            "y": {"datum": 0.902, "type": "quantitative", "axis": {"orient": "left", "values": [-1, -0.8, -0.6, -0.4, -0.2, 0, 0.2, 0.4, 0.6, 0.8, 1], "labels": false, "tickSize": -8, "title": null}}
          }
        },
        {
          "data": {"values": [{"t": "W→eν"}]},
          "mark": {"type": "text", "align": "left", "baseline": "middle", "fontSize": 9.5, "color": "black"},
          "encoding": {
            "text": {"field": "t"},
            "x": {"datum": 0.4074, "type": "quantitative", "axis": {"orient": "bottom", "values": [0.2, 0.3, 0.4, 0.5, 0.6, 0.7, 0.8, 0.9], "labels": false, "tickSize": -5, "title": null}},
            "y": {"datum": 0.875, "type": "quantitative", "axis": {"orient": "left", "values": [-0.96, -0.92, -0.88, -0.84, -0.76, -0.72, -0.68, -0.64, -0.56, -0.52, -0.48, -0.44, -0.36, -0.32, -0.28, -0.24, -0.16, -0.12, -0.08, -0.04, 0.04, 0.08, 0.12, 0.16, 0.24, 0.28, 0.32, 0.36, 0.44, 0.48, 0.52, 0.56, 0.64, 0.68, 0.72, 0.76, 0.84, 0.88, 0.92, 0.96], "labels": false, "tickSize": -4, "title": null}}
          }
        },
        {
          "data": {"values": [{"t": "Data 2010 (√s = 7 TeV)"}]},
          "mark": {"type": "text", "align": "left", "baseline": "middle", "fontSize": 9.5, "color": "black"},
          "encoding": {
            "text": {"field": "t"},
            "x": {"datum": 0.4074, "type": "quantitative", "axis": {"orient": "top", "values": [0.2, 0.3, 0.4, 0.5, 0.6, 0.7, 0.8, 0.9], "labels": false, "tickSize": -5, "title": null}},
            "y": {"datum": 0.647, "type": "quantitative", "axis": {"orient": "right", "values": [-0.96, -0.92, -0.88, -0.84, -0.76, -0.72, -0.68, -0.64, -0.56, -0.52, -0.48, -0.44, -0.36, -0.32, -0.28, -0.24, -0.16, -0.12, -0.08, -0.04, 0.04, 0.08, 0.12, 0.16, 0.24, 0.28, 0.32, 0.36, 0.44, 0.48, 0.52, 0.56, 0.64, 0.68, 0.72, 0.76, 0.84, 0.88, 0.92, 0.96], "labels": false, "tickSize": -4, "title": null}}
          }
        },
        {
          "data": {"values": [{"t": "∫"}]},
          "mark": {"type": "text", "align": "left", "baseline": "middle", "fontSize": 20, "color": "black"},
          "encoding": {"text": {"field": "t"}, "x": {"datum": 0.404, "type": "quantitative", "axis": null}, "y": {"datum": 0.426, "type": "quantitative", "axis": null}}
        },
        {
          "data": {"values": [{"t": "Ldt = 36 pb⁻¹"}]},
          "mark": {"type": "text", "align": "left", "baseline": "middle", "fontSize": 9.5, "color": "black"},
          "encoding": {"text": {"field": "t"}, "x": {"datum": 0.44, "type": "quantitative", "axis": null}, "y": {"datum": 0.425, "type": "quantitative", "axis": null}}
        },
        {
          "data": {"values": [{"t": "√d₂ > 20 GeV"}]},
          "mark": {"type": "text", "align": "left", "baseline": "middle", "fontSize": 9.5, "color": "black"},
          "encoding": {"text": {"field": "t"}, "x": {"datum": 0.4074, "type": "quantitative", "axis": null}, "y": {"datum": 0.206, "type": "quantitative", "axis": null}}
        }
      ]
    },
    {
      "width": 300, "height": 204,
      "resolve": {"axis": {"x": "independent", "y": "independent"}},
      "layer": [
        {
          "data": {"name": "unc"},
          "transform": [{"filter": "datum.panel == 4"}],
          "mark": {"type": "line", "interpolate": "step-after"},
          "encoding": {
            "x": {"field": "x", "type": "quantitative", "scale": {"type": "log", "domain": [0.1, 1], "nice": false}, "axis": {"orient": "bottom", "values": [0.1, 1], "ticks": false, "labelExpr": "datum.value < 0.5 ? '10⁻¹' : '1'", "labelFlush": false, "labelPadding": 8, "title": "√d₃/d₂", "titleAnchor": "end", "titlePadding": 5}},
            "y": {"field": "hi", "type": "quantitative", "scale": {"domain": [-1, 1], "nice": false}, "axis": {"orient": "left", "values": [-1, -0.8, -0.6, -0.4, -0.2, 0, 0.2, 0.4, 0.6, 0.8, 1], "ticks": false, "labelExpr": "'' + datum.value", "labelPadding": 4.5, "title": "Fractional Uncertainty", "titleAnchor": "end", "titlePadding": 10}},
            "color": {"field": "series", "type": "nominal", "scale": {"domain": ["clus", "pile", "unf", "bkg", "lep", "tot", "stat"], "range": ["#2e9e2e", "#ee3030", "#3434ec", "#3cc8c8", "#d040d8", "#000000", "#000000"]}, "legend": {"orient": "none", "legendX": 132.5, "legendY": 135.5, "title": null, "symbolType": "M0,0H8.09", "labelOffset": 28.8, "rowPadding": 0.2, "labelExpr": "datum.value == 'clus' ? 'Cluster energy' : datum.value == 'pile' ? 'Pile-up' : datum.value == 'unf' ? 'Unfolding' : datum.value == 'bkg' ? 'Background modelling' : datum.value == 'lep' ? 'Lepton response' : datum.value == 'tot' ? 'Total syst. unc.' : 'Stat. unc.'"}},
            "strokeDash": {"field": "series", "type": "nominal", "scale": {"domain": ["clus", "pile", "unf", "bkg", "lep", "tot", "stat"], "range": [[1, 0], [1, 0], [1, 0], [1, 0], [1, 0], [1, 0], [3, 2]]}, "legend": {"orient": "none", "legendX": 132.5, "legendY": 135.5, "title": null, "symbolType": "M0,0H8.09", "labelOffset": 28.8, "rowPadding": 0.2}},
            "strokeWidth": {"field": "series", "type": "nominal", "scale": {"type": "ordinal", "domain": ["clus", "pile", "unf", "bkg", "lep", "tot", "stat"], "range": [1.2, 1.2, 1.2, 1.2, 1.2, 2, 2]}, "legend": null}
          }
        },
        {
          "data": {"name": "unc"},
          "transform": [{"filter": "datum.panel == 4"}],
          "mark": {"type": "line", "interpolate": "step-after"},
          "encoding": {
            "x": {"field": "x", "type": "quantitative", "axis": {"orient": "top", "values": [0.1, 1], "labels": false, "tickSize": -9, "title": null}},
            "y": {"field": "lo", "type": "quantitative", "axis": {"orient": "right", "values": [-1, -0.8, -0.6, -0.4, -0.2, 0, 0.2, 0.4, 0.6, 0.8, 1], "labels": false, "tickSize": -8, "title": null}},
            "color": {"field": "series", "type": "nominal", "scale": {"domain": ["clus", "pile", "unf", "bkg", "lep", "tot", "stat"], "range": ["#2e9e2e", "#ee3030", "#3434ec", "#3cc8c8", "#d040d8", "#000000", "#000000"]}, "legend": null},
            "strokeDash": {"field": "series", "type": "nominal", "scale": {"domain": ["clus", "pile", "unf", "bkg", "lep", "tot", "stat"], "range": [[1, 0], [1, 0], [1, 0], [1, 0], [1, 0], [1, 0], [3, 2]]}, "legend": null},
            "strokeWidth": {"field": "series", "type": "nominal", "scale": {"type": "ordinal", "domain": ["clus", "pile", "unf", "bkg", "lep", "tot", "stat"], "range": [1.2, 1.2, 1.2, 1.2, 1.2, 2, 2]}, "legend": null}
          }
        },
        {
          "data": {"values": [{"t": "ATLAS"}]},
          "mark": {"type": "text", "align": "left", "baseline": "middle", "fontSize": 11.5, "fontWeight": "bold", "fontStyle": "italic", "color": "black"},
          "encoding": {
            "text": {"field": "t"},
            "x": {"datum": 0.1096, "type": "quantitative", "axis": {"orient": "bottom", "values": [0.1, 1], "labels": false, "tickSize": -9, "title": null}},
            "y": {"datum": 0.902, "type": "quantitative", "axis": {"orient": "left", "values": [-1, -0.8, -0.6, -0.4, -0.2, 0, 0.2, 0.4, 0.6, 0.8, 1], "labels": false, "tickSize": -8, "title": null}}
          }
        },
        {
          "data": {"values": [{"t": "W→μν"}]},
          "mark": {"type": "text", "align": "left", "baseline": "middle", "fontSize": 9.5, "color": "black"},
          "encoding": {
            "text": {"field": "t"},
            "x": {"datum": 0.3337, "type": "quantitative", "axis": {"orient": "bottom", "values": [0.2, 0.3, 0.4, 0.5, 0.6, 0.7, 0.8, 0.9], "labels": false, "tickSize": -5, "title": null}},
            "y": {"datum": 0.892, "type": "quantitative", "axis": {"orient": "left", "values": [-0.96, -0.92, -0.88, -0.84, -0.76, -0.72, -0.68, -0.64, -0.56, -0.52, -0.48, -0.44, -0.36, -0.32, -0.28, -0.24, -0.16, -0.12, -0.08, -0.04, 0.04, 0.08, 0.12, 0.16, 0.24, 0.28, 0.32, 0.36, 0.44, 0.48, 0.52, 0.56, 0.64, 0.68, 0.72, 0.76, 0.84, 0.88, 0.92, 0.96], "labels": false, "tickSize": -4, "title": null}}
          }
        },
        {
          "data": {"values": [{"t": "Data 2010 (√s = 7 TeV)"}]},
          "mark": {"type": "text", "align": "left", "baseline": "middle", "fontSize": 9.5, "color": "black"},
          "encoding": {
            "text": {"field": "t"},
            "x": {"datum": 0.3337, "type": "quantitative", "axis": {"orient": "top", "values": [0.2, 0.3, 0.4, 0.5, 0.6, 0.7, 0.8, 0.9], "labels": false, "tickSize": -5, "title": null}},
            "y": {"datum": 0.696, "type": "quantitative", "axis": {"orient": "right", "values": [-0.96, -0.92, -0.88, -0.84, -0.76, -0.72, -0.68, -0.64, -0.56, -0.52, -0.48, -0.44, -0.36, -0.32, -0.28, -0.24, -0.16, -0.12, -0.08, -0.04, 0.04, 0.08, 0.12, 0.16, 0.24, 0.28, 0.32, 0.36, 0.44, 0.48, 0.52, 0.56, 0.64, 0.68, 0.72, 0.76, 0.84, 0.88, 0.92, 0.96], "labels": false, "tickSize": -4, "title": null}}
          }
        },
        {
          "data": {"values": [{"t": "∫"}]},
          "mark": {"type": "text", "align": "left", "baseline": "middle", "fontSize": 20, "color": "black"},
          "encoding": {"text": {"field": "t"}, "x": {"datum": 0.344, "type": "quantitative", "axis": null}, "y": {"datum": 0.534, "type": "quantitative", "axis": null}}
        },
        {
          "data": {"values": [{"t": "Ldt = 36 pb⁻¹"}]},
          "mark": {"type": "text", "align": "left", "baseline": "middle", "fontSize": 9.5, "color": "black"},
          "encoding": {"text": {"field": "t"}, "x": {"datum": 0.3603, "type": "quantitative", "axis": null}, "y": {"datum": 0.539, "type": "quantitative", "axis": null}}
        },
        {
          "data": {"values": [{"t": "√d₂ > 20 GeV"}]},
          "mark": {"type": "text", "align": "left", "baseline": "middle", "fontSize": 9.5, "color": "black"},
          "encoding": {"text": {"field": "t"}, "x": {"datum": 0.3171, "type": "quantitative", "axis": null}, "y": {"datum": 0.353, "type": "quantitative", "axis": null}}
        }
      ]
    }
  ]
}
